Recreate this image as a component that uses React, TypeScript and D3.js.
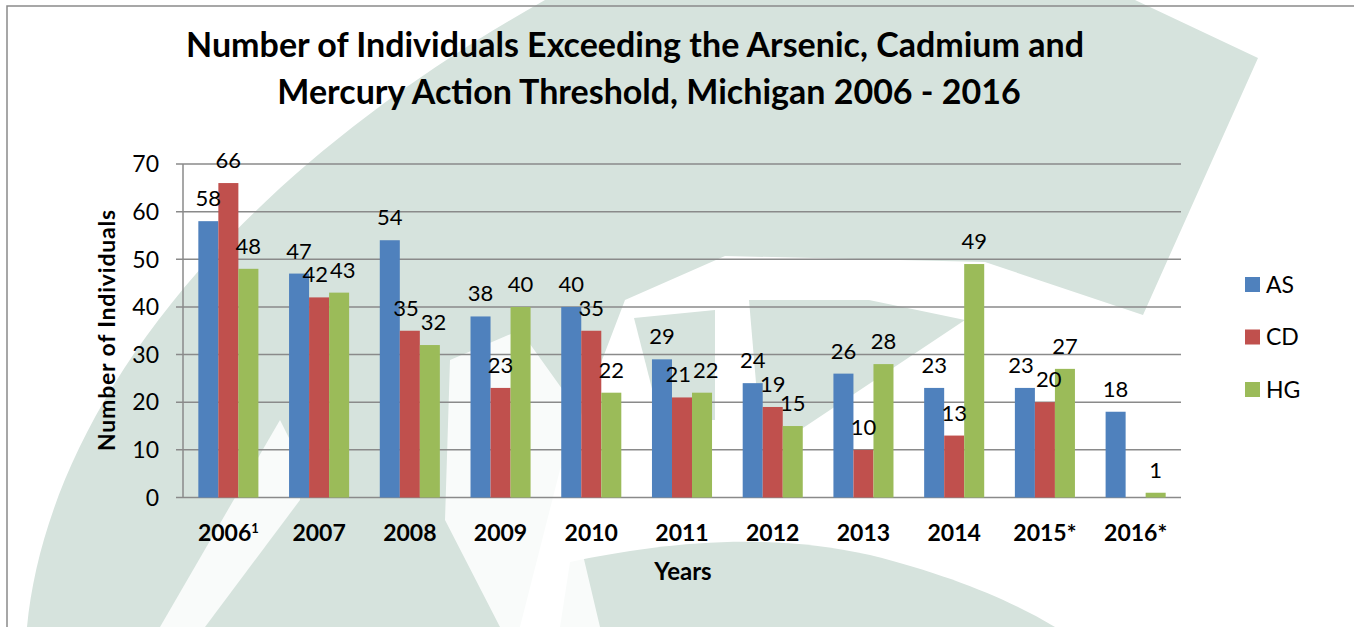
import React, { useEffect, useRef } from "react";
import * as d3 from "d3";

// data
const years = ["2006", "2007", "2008", "2009", "2010", "2011", "2012", "2013", "2014", "2015*", "2016*"];
const seriesNames = ["AS", "CD", "HG"];
const asValues = [58, 47, 54, 38, 40, 29, 24, 26, 23, 23, 18];
const cdValues = [66, 42, 35, 23, 35, 21, 19, 10, 13, 20, null];
const hgValues = [48, 43, 32, 40, 22, 22, 15, 28, 49, 27, 1];
const colors = ["#4f81bd", "#c0504d", "#9bbb59"];
const yTicks = [0, 10, 20, 30, 40, 50, 60, 70];

const W = 1354;
const H = 627;
const FONT = "Lato, 'Open Sans', sans-serif";
const WATERMARK = "#d6e3dd";

type Label = { x: number; y: number; text: string; w: number };

const App = () => {
  const ref = useRef<SVGSVGElement | null>(null);

  useEffect(() => {
    const svg = d3.select(ref.current);
    svg.selectAll("*").remove();

    const margin = { left: 183, right: 1181, top: 164, bottom: 497.5 };
    const series = [asValues, cdValues, hgValues];

    // scales
    const x = d3.scaleBand<string>().domain(years).range([margin.left, margin.right]).paddingInner(0.338).paddingOuter(0.169);
    const xs = d3.scaleBand<number>().domain([0, 1, 2]).range([0, x.bandwidth()]);
    const y = d3.scaleLinear().domain([0, 70]).range([margin.bottom, margin.top]);

    // watermark background
    const bg = svg.append("g");
    bg.append("path")
      .attr("d", "M545,0 L1135,0 L1258,58 L1143,315 L985,262 L725,256 L625,300 L560,470 L520,627 L27,627 C45,440 190,200 545,0 Z")
      .attr("fill", WATERMARK);
    bg.append("path")
      .attr("d", "M560,627 L570,562 C650,545 760,530 870,555 C950,575 1010,600 1055,627 Z")
      .attr("fill", WATERMARK);
    bg.append("path")
      .attr("d", "M634,318 L715,310 L715,420 L660,420 Z")
      .attr("fill", WATERMARK);
    bg.append("path")
      .attr("d", "M749,300 L869,300 L965,320 L800,430 L760,430 Z")
      .attr("fill", WATERMARK);
    // light stripes across the watermark
    bg.append("path").attr("d", "M280,420 L300,460 L300,500 L205,627 L160,627 Z").attr("fill", "#fff").attr("opacity", 0.85);
    bg.append("path").attr("d", "M450,360 L520,330 L570,400 L570,500 L600,627 L500,627 L445,520 Z").attr("fill", "#fff").attr("opacity", 0.85);

    // frame
    svg.append("rect")
      .attr("x", 7).attr("y", 6).attr("width", W + 20).attr("height", H + 20)
      .attr("fill", "none").attr("stroke", "#8a8a8a").attr("stroke-width", 1.5);

    // title
    const title = svg.append("text")
      .attr("text-anchor", "middle")
      .attr("font-family", FONT).attr("font-weight", 700).attr("font-size", 34)
      .attr("fill", "#000");
    title.append("tspan").attr("x", 635).attr("y", 57).text("Number of Individuals Exceeding the Arsenic, Cadmium and");
    title.append("tspan").attr("x", 649).attr("y", 104).text("Mercury Action Threshold, Michigan 2006 - 2016");

    // gridlines
    svg.append("g")
      .selectAll("line")
      .data(yTicks)
      .join("line")
      .attr("x1", margin.left - 7).attr("x2", margin.right)
      .attr("y1", (d) => y(d)).attr("y2", (d) => y(d))
      .attr("stroke", "#8a8a8a").attr("stroke-width", 1.5);
    svg.append("line")
      .attr("x1", margin.left).attr("x2", margin.left)
      .attr("y1", y(70)).attr("y2", y(0))
      .attr("stroke", "#8a8a8a").attr("stroke-width", 1.5);

    // y tick labels
    svg.append("g")
      .selectAll("text")
      .data(yTicks)
      .join("text")
      .attr("x", 159).attr("y", (d) => y(d))
      .attr("dy", "0.36em")
      .attr("text-anchor", "end")
      .attr("font-family", FONT).attr("font-size", 23)
      .text((d) => d);

    // bars
    series.forEach((vals, si) => {
      svg.append("g")
        .selectAll("rect")
        .data(vals.map((v, i) => ({ v, year: years[i] })).filter((d) => d.v != null))
        .join("rect")
        .attr("x", (d) => (x(d.year) ?? 0) + (xs(si) ?? 0))
        .attr("width", xs.bandwidth())
        .attr("y", (d) => y(d.v as number))
        .attr("height", (d) => y(0) - y(d.v as number))
        .attr("fill", colors[si]);
    });

    // data labels, nudged apart inside each year when they collide
    const labelSize = 22;
    const charW = labelSize * 0.58;
    const labelLayer = svg.append("g").attr("font-family", FONT).attr("font-size", labelSize).attr("text-anchor", "middle");
    years.forEach((yr, i) => {
      const group: Label[] = [];
      series.forEach((vals, si) => {
        const v = vals[i];
        if (v == null) return;
        const t = String(v);
        group.push({
          x: (x(yr) ?? 0) + (xs(si) ?? 0) + xs.bandwidth() / 2,
          y: y(v) - 15,
          text: t,
          w: t.length * charW,
        });
      });
      for (let k = 1; k < group.length; k++) {
        const a = group[k - 1];
        const b = group[k];
        const overlapX = a.x + a.w / 2 + 2 - (b.x - b.w / 2);
        const overlapY = Math.abs(a.y - b.y) < 17;
        if (overlapX > 0 && overlapY) {
          a.x -= overlapX / 2;
          b.x += overlapX / 2;
        }
      }
      group.forEach((l) => {
        labelLayer.append("text").attr("x", l.x).attr("y", l.y).text(l.text);
      });
    });

    // x labels
    const xl = svg.append("g")
      .attr("font-family", FONT).attr("font-weight", 700).attr("font-size", 23)
      .attr("text-anchor", "middle");
    years.forEach((yr, i) => {
      const t = xl.append("text")
        .attr("x", (x(yr) ?? 0) + x.bandwidth() / 2)
        .attr("y", 541);
      t.append("tspan").text(yr);
      if (i === 0) t.append("tspan").attr("font-size", 13).attr("dy", -8).text("1");
    });

    // axis titles
    svg.append("text")
      .attr("x", 683).attr("y", 580)
      .attr("text-anchor", "middle")
      .attr("font-family", FONT).attr("font-weight", 700).attr("font-size", 24)
      .text("Years");
    svg.append("text")
      .attr("transform", "translate(115,330) rotate(-90)")
      .attr("text-anchor", "middle")
      .attr("font-family", FONT).attr("font-weight", 700).attr("font-size", 23)
      .attr("letter-spacing", 0.8)
      .text("Number of Individuals");

    // legend
    const legend = svg.append("g");
    seriesNames.forEach((name, i) => {
      const cy = 284.5 + i * 52.5;
      legend.append("rect")
        .attr("x", 1245).attr("y", cy - 7.5).attr("width", 15).attr("height", 15)
        .attr("fill", colors[i]);
      legend.append("text")
        .attr("x", 1266).attr("y", cy).attr("dy", "0.36em")
        .attr("font-family", FONT).attr("font-size", 23)
        .text(name);
    });
  }, []);

  return (
    <svg
      ref={ref}
      width={W}
      height={H}
      style={{ position: "absolute", left: 0, top: 0, display: "block", background: "#fff" }}
    />
  );
};

export default App;
